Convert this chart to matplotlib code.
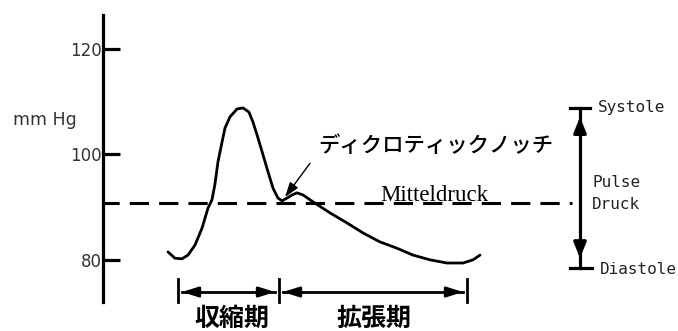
import matplotlib
matplotlib.use("Agg")
import matplotlib.pyplot as plt

# ---- data (time in arbitrary units, pressure in mmHg) ----
t = [168, 175, 182, 188, 195, 202, 208, 212, 215, 218, 222, 225, 230, 237, 243,
     249, 253, 258, 263, 268, 273, 278, 282, 287, 292, 297, 303, 313, 330, 347,
     363, 380, 397, 413, 430, 447, 463, 473, 480]
p = [81.5, 80.3, 80.2, 80.9, 82.8, 86.0, 89.8, 91.4, 94.4, 98.6, 102.3, 105.0,
     107.1, 108.6, 108.8, 108.0, 106.1, 103.1, 99.9, 96.7, 93.6, 91.7, 91.2,
     91.7, 92.3, 92.7, 92.3, 91.0, 88.9, 87.0, 85.1, 83.4, 82.2, 80.9, 80.0,
     79.4, 79.4, 80.0, 80.9]
mean_pressure = 90.8
systole = 108.8
diastole = 78.4
yticks = [80, 100, 120]
ytick_labels = ["80", "100", "120"]
phase_bounds = [178, 279, 467]       # start systole, end systole, end diastole
phase_labels = ["収縮期", "拡張期"]
notch = (285, 91.9)
notch_label = "ディクロティックノッチ"
mean_label = "Mitteldruck"
ylabel = "mm Hg"

fig = plt.figure(figsize=(6.78, 3.31), dpi=100)
ax = fig.add_axes([0, 0, 1, 1])
ax.set_xlim(0, 678)
ax.set_ylim(66.51, 129.26)
for s in ["top", "right", "bottom"]:
    ax.spines[s].set_visible(False)
ax.spines["left"].set_position(("data", 103))
ax.spines["left"].set_bounds(72.05, 126.4)
ax.spines["left"].set_linewidth(2.3)
ax.set_xticks([])
ax.set_yticks(yticks)
ax.set_yticklabels(ytick_labels)
ax.tick_params(axis="y", direction="in", length=12, width=2.3, pad=1,
               labelsize=12, labelcolor="#333333")
ax.patch.set_alpha(0)

# mean pressure dashed line
ax.plot([103, 572], [mean_pressure, mean_pressure], color="black", lw=2.2,
        linestyle=(1, (6.3, 3.3)), solid_capstyle="butt")

# pressure curve
ax.plot(t, p, color="black", lw=2.0, solid_joinstyle="round", solid_capstyle="round")

# labels
ax.text(13, 106.5, ylabel, fontsize=12.5, color="#333333", va="center", ha="left",
        family="DejaVu Sans")
ax.text(380, mean_pressure + 0.3, mean_label, fontsize=16.5, family="Liberation Serif",
        va="baseline", ha="left")
ax.text(318, 100.5, notch_label, fontsize=15.4, family=["Noto Sans CJK JP", "DejaVu Sans"],
        va="baseline", ha="left", fontweight="medium")
ax.annotate("", xy=notch, xytext=(310, 98.3),
            arrowprops=dict(arrowstyle="-|>,head_length=0.9,head_width=0.3",
                            lw=1.0, color="black", shrinkA=0, shrinkB=0))

# pulse pressure arrow on the right
xr = 580
ax.plot([xr - 10, xr + 10], [systole, systole], color="black", lw=2.3)
ax.plot([xr - 10, xr + 12], [diastole, diastole], color="black", lw=2.3)
ax.plot([xr, xr], [diastole, systole], color="black", lw=2.3)
ax.annotate("", xy=(xr, systole - 1.7), xytext=(xr, systole - 5),
            arrowprops=dict(arrowstyle="-|>,head_length=0.95,head_width=0.38",
                            lw=2.3, color="black", shrinkA=0, shrinkB=0))
ax.annotate("", xy=(xr, diastole + 1.9), xytext=(xr, diastole + 5),
            arrowprops=dict(arrowstyle="-|>,head_length=0.95,head_width=0.38",
                            lw=2.3, color="black", shrinkA=0, shrinkB=0))
mono = "DejaVu Sans Mono"
ax.text(598, systole, "Systole", fontsize=11.5, family=mono, va="center", color="#222222")
ax.text(592, 94.6, "Pulse", fontsize=11.5, family=mono, va="center", color="#222222")
ax.text(592, 90.4, "Druck", fontsize=11.5, family=mono, va="center", color="#222222")
ax.text(600, diastole - 0.3, "Diastole", fontsize=11.5, family=mono, va="center",
        color="#222222")

# phase brackets
yb = 73.9
for xb in phase_bounds:
    ax.plot([xb, xb], [72.0, 76.4], color="black", lw=2.0)
for a, b in zip(phase_bounds[:-1], phase_bounds[1:]):
    ax.plot([a + 4, b - 4], [yb, yb], color="black", lw=2.0)
    ax.annotate("", xy=(a + 4, yb), xytext=(a + 20, yb),
                arrowprops=dict(arrowstyle="-|>,head_length=0.95,head_width=0.3",
                                lw=2.0, color="black", shrinkA=0, shrinkB=0))
    ax.annotate("", xy=(b - 4, yb), xytext=(b - 20, yb),
                arrowprops=dict(arrowstyle="-|>,head_length=0.95,head_width=0.3",
                                lw=2.0, color="black", shrinkA=0, shrinkB=0))
label_x = [232, 374]
for lx, lab in zip(label_x, phase_labels):
    ax.text(lx, 67.5, lab, fontsize=18, fontweight="bold", ha="center",
            va="baseline", family=["Noto Sans CJK JP", "DejaVu Sans"], clip_on=False)

fig.savefig("out.png", dpi=100)
